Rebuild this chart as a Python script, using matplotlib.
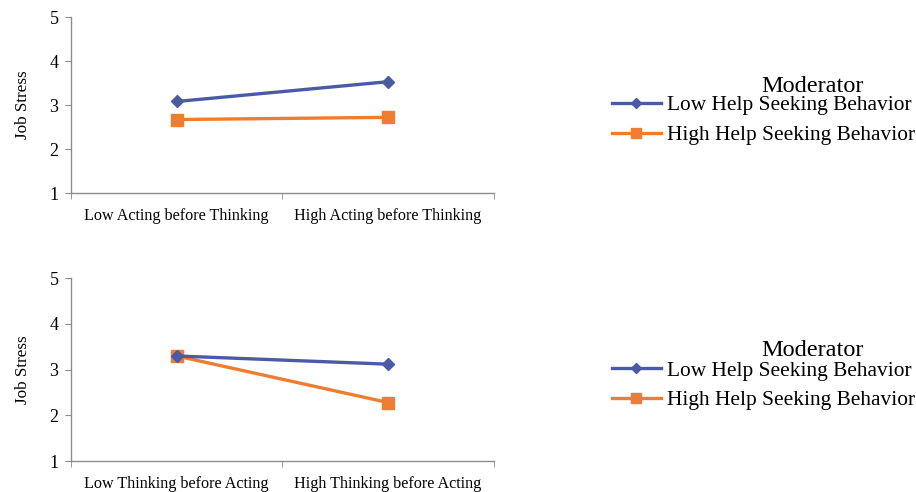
import matplotlib
matplotlib.use('Agg')
from matplotlib import pyplot as plt
from matplotlib.lines import Line2D

# data
top_cats = ['Low Acting before Thinking', 'High Acting before Thinking']
top_low = [3.08, 3.53]
top_high = [2.67, 2.72]

bot_cats = ['Low Thinking before Acting', 'High Thinking before Acting']
bot_low = [3.30, 3.12]
bot_high = [3.30, 2.28]

series_names = ['Low Help Seeking Behavior', 'High Help Seeking Behavior']
yticks = [1, 2, 3, 4, 5]

blue = '#4a5aa6'
orange = '#ed7d31'
spine_col = '#8c8c8c'

plt.rcParams['font.family'] = ['Liberation Serif', 'DejaVu Serif']

fig = plt.figure(figsize=(9.16, 4.92), dpi=100)
ax1 = fig.add_axes([0.0775, 0.6077, 0.4615, 0.3577])
ax2 = fig.add_axes([0.0775, 0.0630, 0.4615, 0.3713])


def draw(ax, cats, low, high):
    x = list(range(len(cats)))
    ax.plot(x, low, color=blue, lw=2.4, marker='D', ms=6, zorder=3)
    ax.plot(x, high, color=orange, lw=2.4, marker='s', ms=9, zorder=2)
    ax.set_xlim(-0.5, len(cats) - 0.5)
    ax.set_ylim(1, 5)
    ax.set_yticks(yticks)
    ax.set_xticks(x)
    ax.set_xticklabels(cats, fontsize=11.6)
    ax.set_xticks([-0.5, 0.5, 1.5], minor=True)
    ax.tick_params(axis='x', which='major', length=0, pad=11)
    ax.tick_params(axis='x', which='minor', length=4, color=spine_col)
    ax.tick_params(axis='y', length=4, color=spine_col, labelsize=13, pad=5)
    ax.set_ylabel('Job Stress', fontsize=12.3, labelpad=13)
    for s in ['top', 'right']:
        ax.spines[s].set_visible(False)
    for s in ['left', 'bottom']:
        ax.spines[s].set_color(spine_col)
        ax.spines[s].set_linewidth(1.0)


draw(ax1, top_cats, top_low, top_high)
draw(ax2, bot_cats, bot_low, bot_high)

handles = [Line2D([], [], color=blue, lw=2.4, marker='D', ms=5),
           Line2D([], [], color=orange, lw=2.4, marker='s', ms=7)]

for ty, ly in [(0.824, 0.7555), (0.2886, 0.2165)]:
    fig.text(0.8308, ty, 'Moderator', fontsize=17.5, ha='left', va='center')
    fig.legend(handles, series_names, loc='center left',
               bbox_to_anchor=(0.668, ly), frameon=False, fontsize=15.4,
               handlelength=2.3, handletextpad=0.28, labelspacing=0.45,
               borderaxespad=0, borderpad=0)

fig.savefig('out.png', dpi=100)
